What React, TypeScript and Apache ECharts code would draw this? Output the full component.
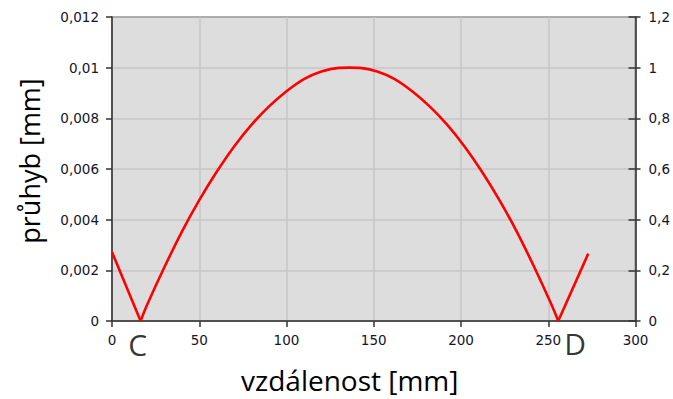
import React, { useEffect, useRef } from "react";
import * as echarts from "echarts";

// Data
const leftOverhangX = [0, 16.4];
const leftOverhangY = [0.00272, 0];

const spanX = [16.4, 20, 30, 40, 50, 60, 70, 80, 90, 100, 110, 120, 130, 136, 142, 152, 162, 172, 182, 192, 202, 212, 222, 232, 242, 252, 255.7];
const spanY = [0, 0.00062, 0.00212, 0.00352, 0.00477, 0.00589, 0.00689, 0.00775, 0.00847, 0.00907, 0.00955, 0.00985, 0.00999, 0.01, 0.00999, 0.00985, 0.00955, 0.00907, 0.00847, 0.00775, 0.00689, 0.00589, 0.00477, 0.00352, 0.00212, 0.00062, 0];

const rightOverhangX = [255.7, 272.9];
const rightOverhangY = [0, 0.00266];

const supportNames = ["C", "D"];
const supportX = [16.4, 255.7];

const xTickLabels = ["0", "50", "100", "150", "200", "250", "300"];
const leftTickLabels = ["0", "0,002", "0,004", "0,006", "0,008", "0,01", "0,012"];
const rightTickLabels = ["0", "0,2", "0,4", "0,6", "0,8", "1", "1,2"];

const xTitle = "vzdálenost [mm]";
const yTitle = "průhyb [mm]";

const zip = (xs: number[], ys: number[]) => xs.map((x, i) => [x, ys[i]]);

export default function App() {
  const ref = useRef<HTMLDivElement>(null);
  useEffect(() => {
    if (!ref.current) return;
    const chart = echarts.init(ref.current, undefined, { renderer: "svg" });
    const tickFont = { fontFamily: "DejaVu Sans", fontSize: 13.5, color: "#14142a" };
    const axisLine = { show: true, lineStyle: { color: "#333", width: 1.5 } };
    const lineStyle = { color: "#ff0000", width: 2.6 };
    chart.setOption({
      animation: false,
      backgroundColor: "#ffffff",
      grid: {
        left: 112,
        top: 17,
        width: 524,
        height: 304,
        show: true,
        backgroundColor: "#dddddd",
        borderColor: "#333",
        borderWidth: 1.5,
      },
      xAxis: {
        type: "value",
        min: 0,
        max: 300,
        interval: 50,
        axisLine: { ...axisLine, onZero: false },
        axisTick: { show: true, length: 6, lineStyle: { color: "#333", width: 1.5 } },
        axisLabel: {
          ...tickFont,
          margin: 12,
          formatter: (v: number) => xTickLabels[Math.round(v / 50)],
        },
        splitLine: { show: true, lineStyle: { color: "#c6c6c6", width: 1.5 } },
        name: xTitle,
        nameLocation: "middle",
        nameGap: 45,
        nameTextStyle: {
          fontFamily: "Open Sans",
          fontSize: 28,
          color: "#000",
          padding: [0, 48, 0, 0],
        },
      },
      yAxis: [
        {
          type: "value",
          min: 0,
          max: 0.012,
          interval: 0.002,
          position: "left",
          axisLine,
          axisTick: { show: true, length: 6, lineStyle: { color: "#333", width: 1.5 } },
          axisLabel: {
            ...tickFont,
            margin: 13,
            formatter: (v: number) => leftTickLabels[Math.round(v / 0.002)],
          },
          splitLine: { show: true, lineStyle: { color: "#c6c6c6", width: 1.5 } },
          name: yTitle,
          nameLocation: "middle",
          nameGap: 69,
          nameTextStyle: {
            fontFamily: "Open Sans",
            fontSize: 27,
            color: "#000",
            padding: [0, 0, 0, 16],
          },
        },
        {
          type: "value",
          min: 0,
          max: 1.2,
          interval: 0.2,
          position: "right",
          axisLine,
          axisTick: { show: true, length: 5, lineStyle: { color: "#333", width: 1.5 } },
          axisLabel: {
            ...tickFont,
            margin: 13,
            formatter: (v: number) => rightTickLabels[Math.round(v / 0.2)],
          },
          splitLine: { show: false },
        },
        {
          type: "value",
          min: 0,
          max: 1.2,
          interval: 0.2,
          position: "right",
          axisLine: { show: false },
          axisTick: { show: true, inside: true, length: 7, lineStyle: { color: "#333", width: 1.5 } },
          axisLabel: { show: false },
          splitLine: { show: false },
        },
      ],
      series: [
        {
          type: "line",
          data: zip(leftOverhangX, leftOverhangY),
          showSymbol: false,
          lineStyle,
          silent: true,
        },
        {
          type: "line",
          data: zip(spanX, spanY),
          showSymbol: false,
          smooth: 0.3,
          lineStyle,
          silent: true,
        },
        {
          type: "line",
          data: zip(rightOverhangX, rightOverhangY),
          showSymbol: false,
          lineStyle,
          silent: true,
        },
        {
          type: "scatter",
          data: supportX.map((x, i) => ({
            value: [x, 0],
            label: {
              show: true,
              formatter: supportNames[i],
              position: "inside",
              offset: i === 0 ? [-3, 23] : [17, 22],
              fontFamily: "Open Sans",
              fontSize: 30,
              color: "#000",
            },
          })),
          symbolSize: 1,
          itemStyle: { color: "rgba(0,0,0,0)" },
          clip: false,
          silent: true,
        },
      ],
    });
    return () => chart.dispose();
  }, []);
  return (
    <div
      ref={ref}
      style={{ position: "absolute", left: 0, top: 0, width: 673, height: 399, background: "#fff" }}
    />
  );
}
